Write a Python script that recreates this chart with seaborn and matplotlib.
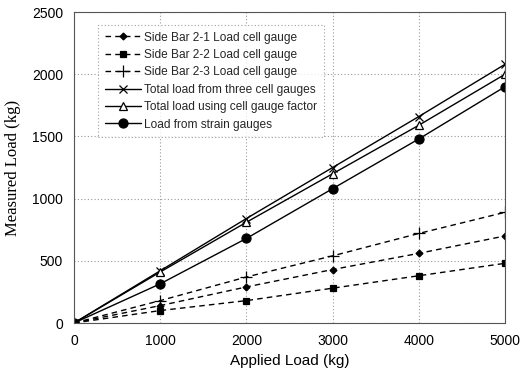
import matplotlib
matplotlib.use("Agg")
import matplotlib.pyplot as plt
import seaborn as sns
import pandas as pd

applied_load = [0, 1000, 2000, 3000, 4000, 5000]
side_bar_2_1 = [0, 140, 290, 430, 560, 700]
side_bar_2_2 = [0, 100, 180, 280, 380, 480]
side_bar_2_3 = [0, 180, 370, 540, 720, 890]
total_three_cells = [0, 420, 840, 1250, 1660, 2080]
total_gauge_factor = [0, 410, 810, 1200, 1590, 2000]
strain_gauges = [0, 315, 680, 1080, 1480, 1900]

series_names = [
    "Side Bar 2-1 Load cell gauge",
    "Side Bar 2-2 Load cell gauge",
    "Side Bar 2-3 Load cell gauge",
    "Total load from three cell gauges",
    "Total load using cell gauge factor",
    "Load from strain gauges",
]
series_values = [side_bar_2_1, side_bar_2_2, side_bar_2_3,
                 total_three_cells, total_gauge_factor, strain_gauges]

x_ticks = [0, 1000, 2000, 3000, 4000, 5000]
y_ticks = [0, 500, 1000, 1500, 2000, 2500]

styles = [
    dict(marker="D", ls=(0, (4, 3)), ms=3.5, mfc="black"),
    dict(marker="s", ls=(0, (4, 3)), ms=4.5, mfc="black"),
    dict(marker="+", ls=(0, (4, 3)), ms=8, mfc="black"),
    dict(marker="x", ls="-", ms=6, mfc="black"),
    dict(marker="^", ls="-", ms=6, mfc="white"),
    dict(marker="o", ls="-", ms=6.5, mfc="black"),
]

sns.set_theme(style="white")
plt.rcParams["font.family"] = ["Liberation Sans", "DejaVu Sans"]

fig = plt.figure(figsize=(5.3, 3.72), dpi=100)
ax = fig.add_axes([0.1396, 0.1317, 0.8134, 0.836])

for name, vals, st in zip(series_names, series_values, styles):
    df = pd.DataFrame({"x": applied_load, "y": vals})
    sns.lineplot(data=df, x="x", y="y", ax=ax, color="black", lw=1.0,
                 marker=st["marker"], linestyle=st["ls"], markersize=st["ms"],
                 markerfacecolor=st["mfc"], markeredgecolor="black",
                 markeredgewidth=0.9, label=name)

ax.set_xlim(0, 5000)
ax.set_ylim(0, 2500)
ax.set_xticks(x_ticks)
ax.set_yticks(y_ticks)
ax.tick_params(axis="both", labelsize=10, colors="black", length=0, pad=8)
ax.grid(True, color="#999999", linestyle=(0, (1, 2)), lw=0.8)
for sp in ax.spines.values():
    sp.set_color("#555555")
    sp.set_linewidth(0.8)
    sp.set_linestyle((0, (2, 1)))

ax.set_xlabel("Applied Load (kg)", fontsize=11, color="black", labelpad=4)
ax.set_ylabel("Measured Load (kg)", fontsize=12, color="black",
              family=["Liberation Serif", "DejaVu Serif"], labelpad=8)

leg = ax.legend(loc="upper left", bbox_to_anchor=(0.056, 0.958), fontsize=8.6,
                frameon=True, fancybox=False, handlelength=3.0,
                handletextpad=0.3, labelspacing=0.45, borderpad=0.55,
                borderaxespad=0)
leg.get_frame().set_edgecolor("#888888")
leg.get_frame().set_linestyle((0, (1, 2)))
leg.get_frame().set_linewidth(0.8)

fig.savefig("out.png", dpi=100)
